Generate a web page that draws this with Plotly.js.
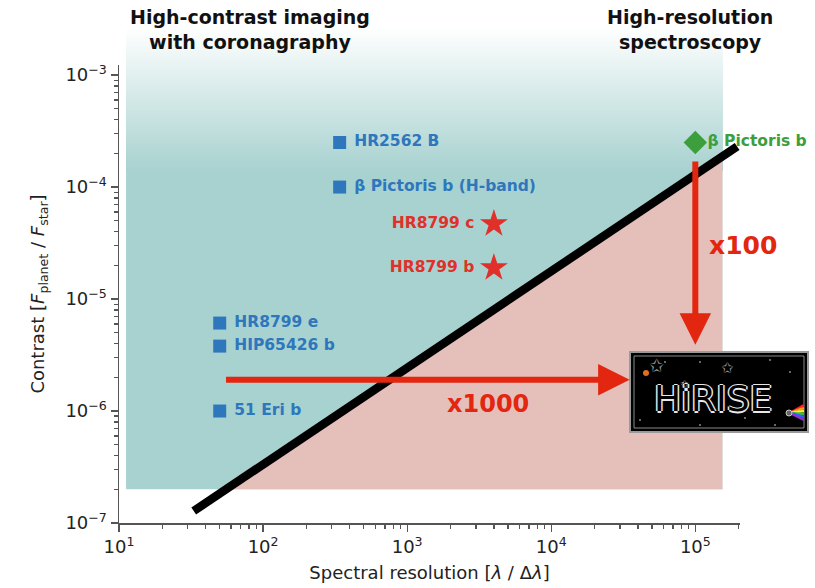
<!DOCTYPE html>
<html><head><meta charset="utf-8">
<script src="https://cdn.plot.ly/plotly-3.0.1.min.js"></script>
<style>html,body{margin:0;padding:0;background:#fff}</style>
</head><body><div id="chart" style="width:815px;height:588px"></div>
<script>
// ---------------- data ----------------
const blueNames = ['HR2562 B', 'β Pictoris b (H-band)', 'HR8799 e', 'HIP65426 b', '51 Eri b'];
const blueRes = [340, 340, 50, 50, 50];
const blueCon = [2.5e-4, 1.0e-4, 6.1e-6, 3.8e-6, 1.0e-6];

const redNames = ['HR8799 c', 'HR8799 b'];
const redRes = [4000, 4000];
const redCon = [4.7e-5, 1.9e-5];

const greenNames = ['β Pictoris b'];
const greenRes = [1e5];
const greenCon = [2.5e-4];

// boundary line between the two regimes (end points)
const limitRes = [33, 1.95e5];
const limitCon = [1.28e-7, 2.3e-4];

// shaded regions
const regionRes = [11.2, 1.54e5];
const regionFloor = [2e-7];

// arrows
const arrowResX = [54, 3.5e4];     // horizontal arrow (x1000)
const arrowResY = [1.9e-6];
const arrowConX = [1e5];           // vertical arrow (x100)
const arrowConY = [1.74e-4, 3.9e-6];

// ticks
const xTickVals = [10, 100, 1000, 1e4, 1e5];
const xTickText = ['10<sup>1</sup>', '10<sup>2</sup>', '10<sup>3</sup>', '10<sup>4</sup>', '10<sup>5</sup>'];
const yTickVals = [1e-7, 1e-6, 1e-5, 1e-4, 1e-3];
const yTickText = ['10<sup>−7</sup>', '10<sup>−6</sup>', '10<sup>−5</sup>', '10<sup>−4</sup>', '10<sup>−3</sup>'];

// ---------------- styling / geometry helpers ----------------
const FONT = 'DejaVu Sans';
const BLUE = '#2f77bc', RED = '#e0302a', GREEN = '#3c9e3c', ARROW = '#e2260f';
const TEAL = [168, 210, 208], PINK = '#e5c0bb';
const xRange = [1, 5.31], yRange = [-7, -2.91];
const L = Math.log10;

function minorVals(lo, hi) {
  const out = [];
  for (let e = lo; e < hi; e++) for (let m = 2; m <= 9; m++) out.push(m * Math.pow(10, e));
  return out;
}

// boundary line in log space
const lx0 = L(limitRes[0]), ly0 = L(limitCon[0]), lx1 = L(limitRes[1]), ly1 = L(limitCon[1]);
const slope = (ly1 - ly0) / (lx1 - lx0);
const lineAtCon = c => Math.pow(10, lx0 + (L(c) - ly0) / slope);
const lineAtRes = r => Math.pow(10, ly0 + (L(r) - lx0) * slope);

const pinkX = [lineAtCon(regionFloor[0]), regionRes[1], regionRes[1], lineAtCon(regionFloor[0])];
const pinkY = [regionFloor[0], regionFloor[0], lineAtRes(regionRes[1]), regionFloor[0]];

// teal area with vertical gradient (paper y), extends above the plot
const yPaper = c => (L(c) - yRange[0]) / (yRange[1] - yRange[0]);
const px = p => (p - 119) / 621, py = p => (523 - p) / 458;
const shapes = [];
const gTop = py(27), gFull = py(170), nStripes = 70;
// stacked bands: each band spans from its top down to the solid area, drawn lightest first
for (let i = nStripes; i >= 1; i--) {
  const top = gFull + (gTop - gFull) * i / nStripes;
  const t = (i - 0.5) / nStripes;
  const c = TEAL.map(v => Math.round(v + (255 - v) * t));
  shapes.push({type: 'rect', xref: 'x', yref: 'paper', x0: regionRes[0], x1: regionRes[1],
    y0: gFull - 0.002, y1: top, fillcolor: `rgb(${c.join(',')})`, line: {width: 0}, layer: 'below'});
}
shapes.push({type: 'rect', xref: 'x', yref: 'paper', x0: regionRes[0], x1: regionRes[1],
  y0: yPaper(regionFloor[0]), y1: gFull, fillcolor: `rgb(${TEAL.join(',')})`, line: {width: 0}, layer: 'below'});

// HiRISE logo box (paper coords)
shapes.push({type: 'rect', xref: 'paper', yref: 'paper', x0: px(630), x1: px(808), y0: py(432), y1: py(352),
  fillcolor: '#000', line: {color: '#9a9a9a', width: 2}, layer: 'above'});
shapes.push({type: 'rect', xref: 'paper', yref: 'paper', x0: px(634), x1: px(804), y0: py(428), y1: py(356),
  fillcolor: 'rgba(0,0,0,0)', line: {color: '#8a8a8a', width: 1}, layer: 'above'});
const rainbow = ['#ff2020', '#ff9a20', '#ffee30', '#30c040', '#3060ff', '#9030d0'];
rainbow.forEach((col, i) => {
  shapes.push({type: 'line', xref: 'paper', yref: 'paper', x0: px(790), y0: py(413),
    x1: px(804), y1: py(405 + i * 3), line: {color: col, width: 2.5}, layer: 'above'});
});
shapes.push({type: 'circle', xref: 'paper', yref: 'paper', x0: px(786), x1: px(792), y0: py(416), y1: py(410),
  fillcolor: '#666', line: {color: '#ccc', width: 1}, layer: 'above'});
shapes.push({type: 'circle', xref: 'paper', yref: 'paper', x0: px(643), x1: px(649), y0: py(376), y1: py(370),
  fillcolor: '#e07020', line: {width: 0}, layer: 'above'});
const dots = [[665, 362], [700, 362], [770, 360], [790, 372], [760, 392], [640, 420], [700, 425], [745, 418], [683, 383], [775, 425]];
dots.forEach(d => shapes.push({type: 'circle', xref: 'paper', yref: 'paper', x0: px(d[0] - 1), x1: px(d[0] + 1),
  y0: py(d[1] + 1), y1: py(d[1] - 1), fillcolor: '#888', line: {width: 0}, layer: 'above'}));

// ---------------- traces ----------------
const NB = '\u00a0';
const traces = [
  {x: pinkX, y: pinkY, mode: 'lines', fill: 'toself', fillcolor: PINK, line: {width: 0}, hoverinfo: 'skip', showlegend: false},
  {x: limitRes, y: limitCon, mode: 'lines', line: {color: '#000', width: 8.5}, hoverinfo: 'skip', showlegend: false},
  {x: blueRes, y: blueCon, text: blueNames.map(s => NB + s), mode: 'markers+text', textposition: 'middle right',
   marker: {symbol: 'square', size: 13, color: BLUE}, cliponaxis: false,
   textfont: {family: FONT, size: 15.5, color: BLUE, weight: 'bold'}, showlegend: false},
  {x: redRes, y: redCon, text: redNames.map(s => s + NB), mode: 'markers+text', textposition: 'middle left',
   marker: {symbol: 'star', size: 21, color: RED}, cliponaxis: false,
   textfont: {family: FONT, size: 15.5, color: RED, weight: 'bold'}, showlegend: false},
  {x: greenRes, y: greenCon, text: greenNames, mode: 'markers+text', textposition: 'middle right',
   marker: {symbol: 'diamond', size: 18, color: GREEN}, cliponaxis: false,
   textfont: {family: FONT, size: 15.5, color: GREEN, weight: 'bold'}, showlegend: false}
];

// ---------------- annotations ----------------
const ann = (x, y, text, font, extra) => Object.assign({xref: 'paper', yref: 'paper', x: px(x), y: py(y), text: text,
  showarrow: false, xanchor: 'center', yanchor: 'middle', align: 'center', font: font}, extra || {});
const annotations = [
  ann(250, 30, 'High-contrast imaging<br>with coronagraphy', {family: FONT, size: 19, color: '#111', weight: 'bold'}),
  ann(690, 30, 'High-resolution<br>spectroscopy', {family: FONT, size: 19, color: '#111', weight: 'bold'}),
  // horizontal arrow
  {xref: 'x', yref: 'y', axref: 'x', ayref: 'y', x: L(arrowResX[1]), y: L(arrowResY[0]),
   ax: L(arrowResX[0]), ay: L(arrowResY[0]), text: '', showarrow: true, arrowhead: 2, arrowsize: 1.05,
   arrowwidth: 6, arrowcolor: ARROW},
  // vertical arrow
  {xref: 'x', yref: 'y', axref: 'x', ayref: 'y', x: L(arrowConX[0]), y: L(arrowConY[1]),
   ax: L(arrowConX[0]), ay: L(arrowConY[0]), text: '', showarrow: true, arrowhead: 2, arrowsize: 1.05,
   arrowwidth: 6, arrowcolor: ARROW},
  ann(743, 245, 'x100', {family: FONT, size: 25, color: ARROW, weight: 'bold'}),
  ann(488, 404, 'x1000', {family: FONT, size: 24, color: ARROW, weight: 'bold'}),
  // logo
  ann(713, 398, 'HiRISE', {family: 'DejaVu Sans', size: 36, color: '#000',
     shadow: '1.5px 0 0 #e8e8e8, -1.5px 0 0 #e8e8e8, 0 1.5px 0 #e8e8e8, 0 -1.5px 0 #e8e8e8'}),
  ann(656, 366, '✩', {family: 'DejaVu Sans', size: 18, color: '#999'}),
  ann(727, 368, '✩', {family: 'DejaVu Sans', size: 15, color: '#999'}),
  ann(684, 384, '✩', {family: 'DejaVu Sans', size: 11, color: '#999'})
];

const axisCommon = {
  type: 'log', showline: true, linecolor: '#555', linewidth: 1.5, ticks: 'outside', ticklen: 7,
  tickwidth: 1.3, tickcolor: '#555', showgrid: false, zeroline: false, tickmode: 'array',
  tickfont: {family: FONT, size: 18, color: '#222'}
};

const layout = {
  width: 815, height: 588,
  margin: {l: 119, r: 75, t: 65, b: 65},
  paper_bgcolor: '#fff', plot_bgcolor: '#fff',
  showlegend: false,
  font: {family: FONT},
  xaxis: Object.assign({}, axisCommon, {
    range: xRange, tickvals: xTickVals, ticktext: xTickText,
    minor: {tickmode: 'array', tickvals: minorVals(1, 6), ticks: 'outside', ticklen: 4, tickcolor: '#555'},
    title: {text: 'Spectral resolution [<i>λ</i> / Δ<i>λ</i>]', font: {family: FONT, size: 18, color: '#222'}, standoff: 10}
  }),
  yaxis: Object.assign({}, axisCommon, {
    range: yRange, tickvals: yTickVals, ticktext: yTickText,
    minor: {tickmode: 'array', tickvals: minorVals(-7, -2), ticks: 'outside', ticklen: 4, tickcolor: '#555'},
    title: {text: 'Contrast [<i>F</i><sub>planet</sub> / <i>F</i><sub>star</sub>]', font: {family: FONT, size: 18, color: '#222'}, standoff: 16}
  }),
  shapes: shapes,
  annotations: annotations
};

Plotly.newPlot('chart', traces, layout, {displayModeBar: false, staticPlot: true});
</script></body></html>
